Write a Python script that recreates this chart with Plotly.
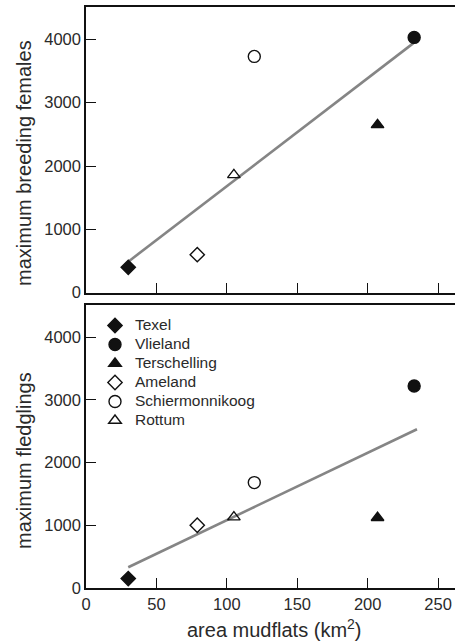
import plotly.graph_objects as go
from plotly.subplots import make_subplots

islands = ["Texel", "Vlieland", "Terschelling", "Ameland", "Schiermonnikoog", "Rottum"]
area_km2 = [30, 233, 207, 79, 119.5, 105]
max_breeding_females = [400, 4030, 2650, 600, 3730, 1860]
max_fledglings = [150, 3220, 1120, 1000, 1680, 1130]
symbols = ["diamond", "circle", "triangle-up", "diamond-open", "circle-open", "triangle-up-open"]
marker_sizes = [11, 12, 11, 11, 12, 11]

fit_top_x = [30, 232.5]
fit_top_y = [490, 3940]
fit_bot_x = [30, 235]
fit_bot_y = [330, 2530]

y_ticks = [0, 1000, 2000, 3000, 4000]
x_ticks = [0, 50, 100, 150, 200, 250]

W, H = 455, 642
ML, MR, MT, MB = 86, 0, 7, 54
pw = W - ML - MR
ph = H - MT - MB

def px_x(p):
    return (p - ML) / pw

def px_y(p):
    return (H - MB - p) / ph

fig = make_subplots(rows=2, cols=1)

FONT = "Liberation Sans, Arial, Helvetica, sans-serif"
TXT = "#2a2a2a"
LINEC = "#858585"

fig.add_trace(go.Scatter(x=fit_top_x, y=fit_top_y, mode="lines",
                         line=dict(color=LINEC, width=2.6), showlegend=False,
                         hoverinfo="skip"), row=1, col=1)
fig.add_trace(go.Scatter(x=fit_bot_x, y=fit_bot_y, mode="lines",
                         line=dict(color=LINEC, width=2.6), showlegend=False,
                         hoverinfo="skip"), row=2, col=1)

for i, name in enumerate(islands):
    mk = dict(symbol=symbols[i], size=marker_sizes[i], color="#111111",
              line=dict(color="#111111", width=1.4))
    fig.add_trace(go.Scatter(x=[area_km2[i]], y=[max_breeding_females[i]], mode="markers",
                             marker=mk, name=name, showlegend=False), row=1, col=1)
    fig.add_trace(go.Scatter(x=[area_km2[i]], y=[max_fledglings[i]], mode="markers",
                             marker=mk,
                             name="<span style='font-size:15.5px'>%s</span>" % name,
                             showlegend=True), row=2, col=1)

top_dom = [px_y(292.7), 1.0]
bot_dom = [0.0, px_y(305)]

axis_common = dict(showline=True, linecolor="#111111", linewidth=1.5,
                   showgrid=False, zeroline=False, ticks="inside", ticklen=10,
                   tickwidth=1.2, tickcolor="#111111", automargin=False,
                   tickfont=dict(family=FONT, size=16.5, color=TXT))

fig.update_xaxes(**axis_common, range=[0, 262], mirror=True, domain=[0, 1])
fig.update_yaxes(**axis_common, range=[0, 4510], tickvals=y_ticks, mirror=False)

fig.update_xaxes(tickvals=x_ticks[1:], showticklabels=False, row=1, col=1)
fig.update_xaxes(tickvals=x_ticks, showticklabels=True, row=2, col=1)
fig.update_yaxes(domain=top_dom, row=1, col=1)
fig.update_yaxes(domain=bot_dom, row=2, col=1)

fig.add_annotation(text="maximum breeding females", xref="paper", yref="paper",
                   x=px_x(24), y=px_y(163), textangle=-90, showarrow=False,
                   font=dict(family=FONT, size=20, color=TXT), xanchor="center", yanchor="middle")
fig.add_annotation(text="maximum fledglings", xref="paper", yref="paper",
                   x=px_x(24), y=px_y(461), textangle=-90, showarrow=False,
                   font=dict(family=FONT, size=20, color=TXT), xanchor="center", yanchor="middle")
fig.add_annotation(text="area mudflats (km<sup>2</sup>)", xref="paper", yref="paper",
                   x=px_x(274.5), y=px_y(628), showarrow=False,
                   font=dict(family=FONT, size=20, color=TXT), xanchor="center", yanchor="middle")

fig.update_layout(
    width=W, height=H,
    margin=dict(l=ML, r=MR, t=MT, b=MB),
    paper_bgcolor="white", plot_bgcolor="white",
    showlegend=True,
    legend=dict(x=px_x(95), y=px_y(311), xanchor="left", yanchor="top",
                font=dict(family=FONT, size=11.6, color=TXT),
                bgcolor="rgba(0,0,0,0)", borderwidth=0, itemwidth=30,
                tracegroupgap=0),
    font=dict(family=FONT, color=TXT),
)

fig.write_html("out.html", config={"displayModeBar": False},
               post_script="document.body.style.margin='0';document.body.style.overflow='hidden';")
